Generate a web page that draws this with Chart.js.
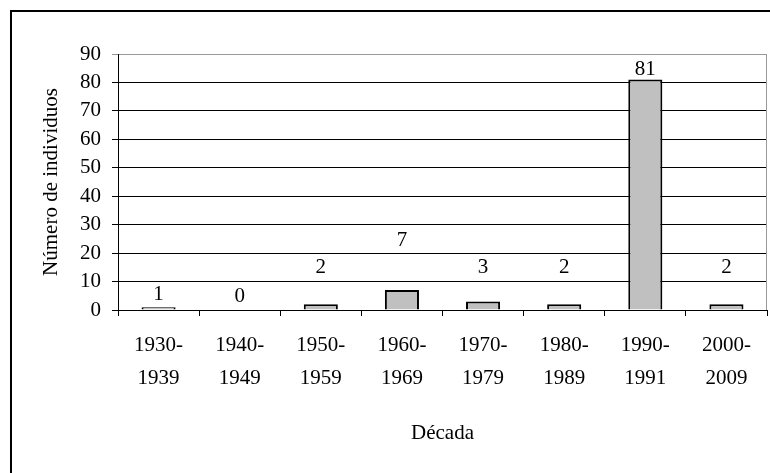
<!DOCTYPE html>
<html>
<head>
<meta charset="utf-8">
<script src="https://cdn.jsdelivr.net/npm/chart.js@4.4.0/dist/chart.umd.min.js"></script>
<style>
  html, body { margin: 0; padding: 0; background: #fff; }
  #wrap { position: relative; width: 770px; height: 473px; }
</style>
</head>
<body>
<div id="wrap"><canvas id="decadasChart" width="770" height="473"></canvas></div>
<script>
// dados do gráfico
const decadas = [['1930-', '1939'], ['1940-', '1949'], ['1950-', '1959'], ['1960-', '1969'],
                 ['1970-', '1979'], ['1980-', '1989'], ['1990-', '1991'], ['2000-', '2009']];
const individuos = [1, 0, 2, 7, 3, 2, 81, 2];
const yTicks = [0, 10, 20, 30, 40, 50, 60, 70, 80, 90];

// altura (em unidades do eixo) onde cada rótulo foi posto no original
const alturaRotulo = [5.3, 4.6, 14.8, 24.3, 14.8, 14.8, 84.7, 14.8];

const FONTE = 'Liberation Serif';
const TAM = 21;

// moldura externa + borda cinza da área do gráfico + rótulos dos valores
const extrasPlugin = {
    id: 'extras',
    afterDraw(chart) {
        const ctx = chart.ctx;
        const area = chart.chartArea;
        const y = chart.scales.y;
        ctx.save();
        ctx.strokeStyle = '#999';
        ctx.lineWidth = 1;
        ctx.beginPath();
        ctx.moveTo(area.right - 0.5, area.top);
        ctx.lineTo(area.right - 0.5, area.bottom);
        ctx.stroke();

        ctx.strokeStyle = '#000';
        ctx.lineWidth = 2;
        ctx.strokeRect(11, 11, 820, 520);

        ctx.fillStyle = '#000';
        ctx.font = `${TAM}px "${FONTE}"`;
        ctx.textAlign = 'center';
        ctx.textBaseline = 'middle';
        const meta = chart.getDatasetMeta(0);
        meta.data.forEach((bar, i) => {
            ctx.fillText(String(individuos[i]), bar.x, y.getPixelForValue(alturaRotulo[i]));
        });
        ctx.restore();
    }
};

new Chart(document.getElementById('decadasChart'), {
    type: 'bar',
    data: {
        labels: decadas,
        datasets: [{
            label: 'Número de individuos',
            data: individuos,
            backgroundColor: '#c0c0c0',
            borderColor: '#000',
            borderWidth: 2,
            barPercentage: 0.42,
            categoryPercentage: 1
        }]
    },
    options: {
        responsive: false,
        animation: false,
        layout: { padding: { left: 0, top: 54, right: 3, bottom: 0 } },
        plugins: {
            legend: { display: false },
            tooltip: { enabled: false }
        },
        scales: {
            x: {
                afterFit: (scale) => { scale.height = 163; },
                border: { color: '#000', width: 1 },
                grid: { offset: true, drawOnChartArea: false, color: '#000', tickLength: 6 },
                ticks: {
                    color: '#000',
                    padding: 13,
                    maxRotation: 0,
                    autoSkip: false,
                    font: { family: FONTE, size: TAM, lineHeight: 1.57 }
                },
                title: {
                    display: true,
                    text: 'Década',
                    color: '#000',
                    font: { family: FONTE, size: TAM, lineHeight: 1.2 },
                    padding: { top: 0, bottom: 27 }
                }
            },
            y: {
                min: 0,
                max: 90,
                afterFit: (scale) => { scale.width = 118; },
                afterBuildTicks: (scale) => { scale.ticks = yTicks.map(v => ({ value: v })); },
                border: { color: '#000', width: 1 },
                grid: {
                    color: (c) => c.tick && c.tick.value === 90 ? '#999' : '#000',
                    tickLength: 6
                },
                ticks: {
                    color: '#000',
                    padding: 11,
                    font: { family: FONTE, size: TAM }
                },
                title: {
                    display: true,
                    text: 'Número de individuos',
                    color: '#000',
                    font: { family: FONTE, size: TAM, lineHeight: 1.2 },
                    padding: { top: 39, bottom: 0 }
                }
            }
        }
    },
    plugins: [extrasPlugin]
});
</script>
</body>
</html>
